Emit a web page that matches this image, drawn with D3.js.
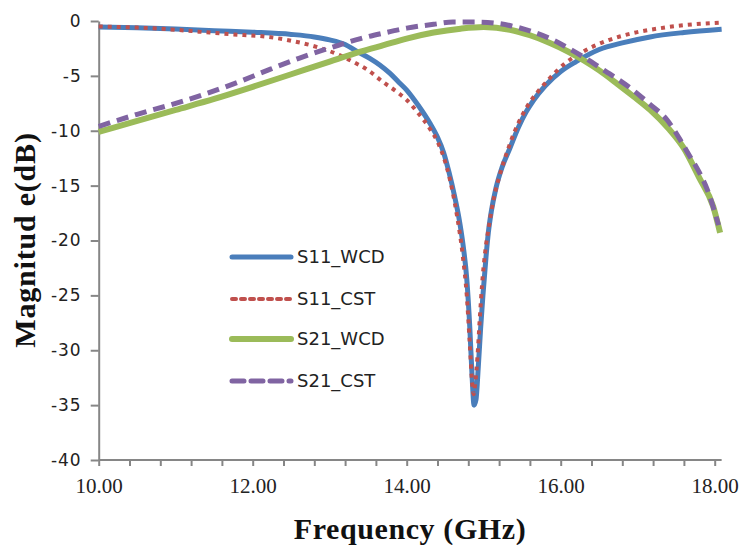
<!DOCTYPE html>
<html>
<head>
<meta charset="utf-8">
<script src="https://cdn.jsdelivr.net/npm/d3@7"></script>
<style>
  body { margin: 0; background: #fff; }
  svg { display: block; }
</style>
</head>
<body>
<svg id="chart" width="748" height="545"></svg>
<script>
// frequency (GHz), magnitude (dB)
var s11Wcd = [
  [10.0, -0.55], [10.5, -0.62], [11.0, -0.72], [11.5, -0.88], [12.0, -1.02],
  [12.5, -1.22], [12.8, -1.45], [13.0, -1.72], [13.2, -2.15], [13.35, -2.75],
  [13.52, -3.4], [13.65, -4.0], [13.78, -4.75], [13.9, -5.6], [14.0, -6.3],
  [14.1, -7.2], [14.2, -8.2], [14.3, -9.3], [14.4, -10.6], [14.48, -12.0],
  [14.55, -13.8], [14.62, -15.9], [14.68, -18.0], [14.73, -20.3], [14.78, -23.5],
  [14.82, -28.0], [14.85, -32.5], [14.875, -35.0], [14.9, -34.5], [14.93, -31.5],
  [14.96, -28.0], [14.99, -25.0], [15.03, -21.5], [15.06, -19.3], [15.1, -17.3],
  [15.16, -15.2], [15.24, -13.3], [15.34, -11.6], [15.45, -9.7], [15.55, -8.3],
  [15.65, -7.2], [15.8, -5.9], [16.0, -4.6], [16.2, -3.7], [16.5, -2.6],
  [16.8, -2.0], [17.16, -1.45], [17.6, -1.05], [18.09, -0.75]
];
var s11Cst = [
  [10.0, -0.5], [10.5, -0.6], [11.0, -0.8], [11.3, -0.97], [11.7, -1.2],
  [12.2, -1.45], [12.5, -1.8], [12.8, -2.3], [13.0, -2.75], [13.3, -3.7],
  [13.5, -4.5], [13.7, -5.6], [13.9, -6.6], [14.0, -7.2], [14.15, -8.4],
  [14.3, -9.8], [14.4, -11.0], [14.48, -12.4], [14.56, -14.4], [14.65, -17.6],
  [14.73, -21.5], [14.78, -25.0], [14.82, -29.5], [14.85, -33.0], [14.87, -34.0],
  [14.89, -33.0], [14.92, -30.5], [14.95, -27.0], [14.98, -23.9], [15.02, -21.0],
  [15.07, -18.6], [15.13, -16.2], [15.21, -14.0], [15.3, -12.0], [15.4, -10.1],
  [15.5, -8.6], [15.6, -7.4], [15.72, -6.3], [15.86, -5.2], [16.05, -3.9],
  [16.29, -2.8], [16.6, -1.8], [16.94, -1.1], [17.3, -0.65], [17.6, -0.38],
  [18.09, -0.15]
];
var s21Wcd = [
  [10.0, -10.1], [10.5, -9.1], [11.0, -8.1], [11.5, -7.1], [12.0, -6.0],
  [12.5, -4.85], [13.0, -3.7], [13.4, -2.8], [13.7, -2.2], [14.0, -1.6],
  [14.35, -1.05], [14.7, -0.7], [15.0, -0.55], [15.34, -0.8], [15.6, -1.3],
  [15.86, -2.0], [16.1, -2.8], [16.29, -3.55], [16.5, -4.5], [16.73, -5.7],
  [16.95, -6.9], [17.16, -8.1], [17.4, -9.8], [17.59, -11.5], [17.8, -14.3],
  [17.98, -16.9], [18.07, -19.3]
];
var s21Cst = [
  [10.0, -9.6], [10.5, -8.5], [11.0, -7.5], [11.32, -6.8], [11.8, -5.6],
  [12.19, -4.5], [12.6, -3.4], [13.05, -2.35], [13.4, -1.6], [13.7, -1.1],
  [14.0, -0.65], [14.35, -0.3], [14.6, -0.1], [14.9, -0.1], [15.21, -0.25],
  [15.45, -0.6], [15.64, -1.0], [15.86, -1.6], [16.08, -2.4], [16.3, -3.3],
  [16.5, -4.2], [16.72, -5.2], [16.94, -6.3], [17.16, -7.6], [17.38, -9.0],
  [17.55, -10.8], [17.64, -11.9], [17.8, -13.8], [17.9, -15.3], [18.05, -18.6]
];
var seriesNames = ["S11_WCD", "S11_CST", "S21_WCD", "S21_CST"];
var xTicks = d3.range(0, 21).map(function(i) { return 10 + i * 0.4; });
var xLabels = [10, 12, 14, 16, 18];
var yTicks = [0, -5, -10, -15, -20, -25, -30, -35, -40];

var styles = [
  { color: "#4a7ebb", width: 5, dash: null },
  { color: "#c0504d", width: 4, dash: "4,5" },
  { color: "#9bbb59", width: 6, dash: null },
  { color: "#8064a2", width: 5, dash: "12,7" }
];
var allData = [s11Wcd, s11Cst, s21Wcd, s21Cst];

var svg = d3.select("#chart");
var x = d3.scaleLinear().domain([10, 18]).range([98.7, 714.7]);
var y = d3.scaleLinear().domain([-40, 0]).range([460, 21]);
var axisColor = "#868686";

// x axis
var xAxis = svg.append("g")
  .attr("transform", "translate(0," + y(-40) + ")")
  .call(d3.axisBottom(x).tickValues(xTicks).tickSize(6).tickSizeOuter(0)
    .tickFormat(function(d) {
      var r = Math.round(d * 10) / 10;
      return xLabels.indexOf(r) >= 0 ? r.toFixed(2) : "";
    }));
xAxis.select(".domain").remove();
xAxis.append("line")
  .attr("x1", x(10)).attr("x2", x(18.09))
  .attr("stroke", axisColor).attr("stroke-width", 2);
xAxis.selectAll(".tick line").attr("stroke", axisColor).attr("stroke-width", 2);
xAxis.selectAll(".tick text")
  .attr("fill", "#222")
  .attr("y", 18)
  .attr("dy", "0.71em")
  .style("font-family", "'Liberation Serif', 'Times New Roman', serif")
  .style("font-size", "21px");

// y axis
var yAxis = svg.append("g")
  .attr("transform", "translate(" + x(10) + ",0)")
  .call(d3.axisLeft(y).tickValues(yTicks).tickSize(8).tickSizeOuter(0)
    .tickFormat(function(d) { return String(d); }));
yAxis.select(".domain").attr("stroke", axisColor).attr("stroke-width", 2);
yAxis.selectAll(".tick line").attr("stroke", axisColor).attr("stroke-width", 2);
yAxis.selectAll(".tick text")
  .attr("fill", "#222")
  .attr("x", -17)
  .style("font-family", "'DejaVu Sans', sans-serif")
  .style("font-size", "17px")
  .style("letter-spacing", "1px");

// curves
var line = d3.line()
  .x(function(d) { return x(d[0]); })
  .y(function(d) { return y(d[1]); })
  .curve(d3.curveMonotoneX);

allData.forEach(function(data, i) {
  var st = styles[i];
  svg.append("path")
    .datum(data)
    .attr("d", line)
    .attr("fill", "none")
    .attr("stroke", st.color)
    .attr("stroke-width", st.width)
    .attr("stroke-dasharray", st.dash)
    .attr("stroke-linejoin", "round");
});

// legend
var legendRows = [257, 299, 339, 381];
var legend = svg.append("g");
seriesNames.forEach(function(name, i) {
  var st = styles[i];
  legend.append("line")
    .attr("x1", 232).attr("x2", 291)
    .attr("y1", legendRows[i]).attr("y2", legendRows[i])
    .attr("stroke", st.color)
    .attr("stroke-width", st.width)
    .attr("stroke-dasharray", st.dash)
    .attr("stroke-linecap", "round");
  legend.append("text")
    .attr("x", 297).attr("y", legendRows[i])
    .attr("dy", "0.36em")
    .attr("fill", "#222")
    .style("font-family", "'DejaVu Sans', sans-serif")
    .style("font-size", "18px")
    .text(name);
});

// axis titles
svg.append("text")
  .attr("x", 410).attr("y", 539)
  .attr("text-anchor", "middle")
  .attr("fill", "#111")
  .style("font-family", "'Liberation Serif', 'Times New Roman', serif")
  .style("font-weight", "bold")
  .style("font-size", "30px")
  .style("letter-spacing", "0.6px")
  .text("Frequency (GHz)");

svg.append("text")
  .attr("transform", "translate(35,240) rotate(-90)")
  .attr("text-anchor", "middle")
  .attr("fill", "#111")
  .style("font-family", "'Liberation Serif', 'Times New Roman', serif")
  .style("font-weight", "bold")
  .style("font-size", "30px")
  .style("letter-spacing", "0.8px")
  .text("Magnitud e(dB)");
</script>
</body>
</html>
